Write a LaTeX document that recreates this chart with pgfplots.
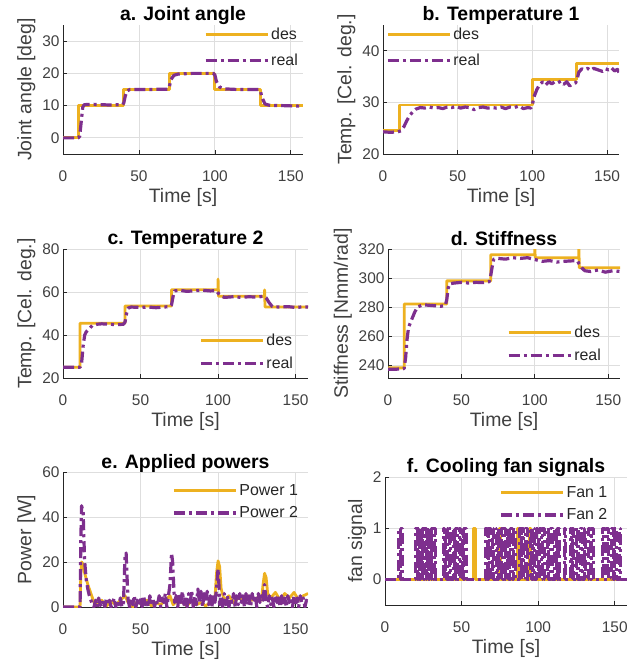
\documentclass[border=0pt]{standalone}
\usepackage{fontspec}
\setmainfont{Liberation Sans}
\usepackage{pgfplots}
\pgfplotsset{compat=1.18}

\definecolor{cdes}{HTML}{EDB120}
\definecolor{creal}{HTML}{7E2F8E}
\definecolor{axgray}{HTML}{262626}
\definecolor{txtgray}{HTML}{404040}
\definecolor{gridgray}{HTML}{DEDEDE}

\pgfplotsset{
  legend image code/.code={\draw[#1] (0bp,0bp) -- (62bp,0bp);},
  panel/.style={
    scale only axis,
    anchor=south west,
    axis x line=bottom, axis y line=left,
    axis line style={axgray, line width=0.8bp, -},
    tick align=inside,
    major tick length=4bp,
    tick style={axgray, line width=0.7bp},
    grid=major,
    major grid style={gridgray, line width=0.8bp},
    /pgf/number format/assume math mode=true,
    tick label style={font=\fontsize{15.5}{15.5}\selectfont, text=txtgray},
    xticklabel style={yshift=-13bp},
    label style={font=\fontsize{19.5}{19.5}\selectfont, text=txtgray},
    every axis title/.style={at={(0.5,1)}, anchor=base, yshift=4bp, font=\bfseries\fontsize{19.5}{19.5}\selectfont},
    xlabel={Time [s]},
    xmin=0, xmax=158,
    xtick={0,50,100,150},
    legend style={draw=none, fill=none, font=\fontsize{16}{16}\selectfont, text=axgray, row sep=6bp},
    legend cell align=left,
  },
  desline/.style={cdes, line width=2.8bp, line join=round},
  realline/.style={creal, line width=3.2bp, line join=round, dash pattern=on 11bp off 4bp on 3bp off 4bp},
}

\begin{document}
\begin{tikzpicture}
\path[use as bounding box] (0,0) rectangle (644bp,663bp);

% a. Joint angle
\begin{axis}[panel, at={(63bp,509bp)}, width=240bp, height=129bp,
  title={a. Joint angle}, ylabel={Joint angle [deg]},
  ymin=-5, ymax=35, ytick={0,10,20,30},
  legend style={at={(1.0,1.01)}, anchor=north east, row sep=9bp}]
\addplot[desline] coordinates {(0,0)(10,0)(10,10)(40,10)(40,15)(70,15)(70,20)(100,20)(100,15)(130,15)(130,10)(158,10)};
\addplot[realline] coordinates {(0,0)(10,0)(11,0.5)(12,5)(13,9.5)(14,10.3)(20,10.4)(30,10.2)(39,10.3)(40,10.8)(41,13)(42,14.5)(44,15)(55,15)(69,15.1)(70,15.8)(71,18)(73,19.4)(76,19.8)(85,20)(99,20)(100,19.5)(101,17.5)(103,15.8)(106,15.2)(115,15)(129,15)(130,14.5)(131,12.5)(133,10.5)(136,10.1)(145,10)(158,9.8)};
\legend{des, real}
\end{axis}

% b. Temperature 1
\begin{axis}[panel, at={(383bp,509bp)}, width=236bp, height=129bp,
  title={b. Temperature 1}, ylabel={Temp. [Cel. deg.]},
  ymin=20, ymax=45, ytick={20,30,40},
  legend style={at={(0.0,1.01)}, anchor=north west, row sep=9bp}]
\addplot[desline] coordinates {(0,24.5)(11,24.5)(11,29.5)(100,29.5)(100,34.5)(129.5,34.5)(129.5,37.5)(158,37.5)};
\addplot[realline] coordinates {(0,24.3)(5,24.2)(10,24.3)(12,24.5)(14,25.3)(16,26.5)(18,27.5)(20,28.2)(22,28.7)(25,29)(28,28.9)(31,29.1)(34,28.9)(37,29)(40,28.8)(43,29.1)(46,29)(49,29.2)(52,28.9)(55,29.1)(58,29)(61,28.6)(64,29)(67,29.1)(70,28.9)(73,29)(76,28.9)(79,29.1)(82,28.8)(85,29.1)(88,29)(91,29.3)(94,28.8)(97,29)(99,28.9)(100,29.5)(101,31)(103,32.5)(105,33.5)(107,34)(109,33.4)(111,34)(113,33.6)(115,34)(117,33.8)(119,34.1)(121,33.5)(123,34)(125,33.2)(127,33.6)(129,33.8)(130,34.5)(131,35.8)(133,36.5)(135,36.3)(137,36.6)(139,36.2)(141,36.6)(143,36.4)(145,36.2)(147,36.0)(149,36.5)(151,36.3)(153,36.7)(155,36.1)(157,36.4)(158,35.8)};
\legend{des, real}
\end{axis}

% c. Temperature 2
\begin{axis}[panel, at={(63bp,285bp)}, width=245bp, height=129bp,
  title={c. Temperature 2}, ylabel={Temp. [Cel. deg.]},
  ymin=20, ymax=80, ytick={20,40,60,80},
  legend style={at={(0.96,0.03)}, anchor=south east}]
\addplot[desline] coordinates {(0,25)(11,25)(11,45.5)(40,45.5)(40,53.5)(70,53.5)(70,61)(100,61)(100,66)(100.3,58)(130,58)(130,61)(130.3,53)(158,53)};
\addplot[realline] coordinates {(0,25)(11,25)(12,27)(13,35)(14,40)(15,41.5)(17,43)(19,44.5)(22,45)(25,45.2)(30,45)(35,44.8)(39,45)(40,46)(41,50)(42,52.5)(44,53)(50,52.8)(55,53)(60,52.7)(65,53)(69,53.2)(70,54)(71,58)(72,60.5)(75,60.8)(80,60.3)(85,60.6)(90,60.8)(95,60.5)(99,60.6)(100,59.5)(102,58.2)(104,57.5)(110,57.8)(115,57.5)(120,57.8)(125,57.6)(129,58)(131,57.3)(133,55)(135,53.2)(140,53)(145,53.2)(150,52.8)(155,53.1)(158,53)};
\legend{des, real}
\end{axis}

% d. Stiffness
\begin{axis}[panel, at={(388bp,285bp)}, width=232bp, height=129bp,
  title={d. Stiffness}, ylabel={Stiffness [Nmm/rad]},
  ymin=231, ymax=320, ytick={240,260,280,300,320},
  legend style={at={(0.94,0.09)}, anchor=south east}]
\addplot[desline] coordinates {(0,238)(11,238)(11,282)(40,282)(40,298)(70,298)(70,316)(100,316)(100,320)(100.3,314)(130,314)(130,320)(130.3,307)(158,307)};
\addplot[realline] coordinates {(0,237)(5,237)(11,237.5)(12,245)(13,258)(14,266)(16,271)(18,276)(20,280)(24,281.5)(30,281)(36,280.5)(39,281)(40,285)(41,293)(42,296)(45,296.5)(50,297)(55,296.5)(60,297)(65,296.8)(69,297.5)(70,302)(71,308)(72,313)(75,313.5)(80,313)(85,314)(90,313.5)(95,314)(99,313)(101,312.5)(105,311.5)(110,312)(115,311)(120,311.5)(125,311.8)(129,312)(130,310)(132,307)(134,305)(138,304.5)(143,305.5)(148,304)(153,305)(158,304.5)};
\legend{des, real}
\end{axis}

% e. Applied powers
\begin{axis}[panel, at={(63bp,56bp)}, width=245bp, height=135bp,
  title={e. Applied powers}, ylabel={Power [W]},
  ymin=0, ymax=60, ytick={0,20,40,60},
  legend style={at={(0.98,0.94)}, anchor=north east}]
\addplot[desline] coordinates {(0,0)(11,0)(11.5,15)(12,20)(13,19)(14,15)(16,10)(18,6)(20,2)(22,1)(25,3)(28,0.5)(31,2.5)(34,1)(37,3)(40,5)(42,2)(45,0)(48,2.5)(51,1)(54,3)(57,0.5)(60,2)(63,1)(66,3)(69,5)(71,1)(74,3)(77,2)(80,0.5)(83,3)(86,1)(89,2)(92,0.5)(95,2)(98,4)(99,15)(100,20.5)(101,18)(102,8)(104,3)(107,5)(110,2)(113,4)(116,3)(119,5)(122,3)(125,4)(128,3)(129,10)(130,15)(131,13)(132,6)(134,4)(137,6.5)(140,3)(143,6)(146,4)(149,6.5)(152,3)(155,5)(158,6)};
\addplot[realline] coordinates {(0,0)(11,0)(11.5,30)(12,45)(13,42)(13.5,30)(14,20)(15,12)(16,8)(17,5)(18,3)(19,1)(20,0)(21,3)(22,0)(23,4)(24,1)(25,0)(26,3)(27,0)(28,4)(29,1)(30,3)(31,0)(32,2)(33,4)(34,0)(35,3)(36,1)(37,4)(38,0)(39,2)(40,23)(40.7,24)(41.5,10)(42,3)(43,0)(44,4)(45,1)(46,5)(47,0)(48,3)(49,1)(50,4)(51,0)(52,5)(53,1)(54,3)(55,0)(56,5)(57,2)(58,4)(59,0)(60,3)(61,1)(62,5)(63,0)(64,4)(65,2)(66,6)(67,0)(68,5)(69,10)(70,24)(70.7,20)(71.5,8)(72,2)(73,5)(74,0)(75,6)(76,2)(77,7)(78,1)(79,5)(80,0)(81,6)(82,2)(83,7)(84,0)(85,5)(86,1)(87,8)(88,2)(89,7)(90,0)(91,6)(92,2)(93,7)(94,1)(95,5)(96,0)(97,6)(98,2)(99,8)(100,17)(100.7,8)(101,1)(102,5)(103,0)(104,6)(105,1)(106,5)(107,0)(108,4)(109,2)(110,6)(111,0)(112,5)(113,1)(114,6)(115,2)(116,5)(117,0)(118,6)(119,1)(120,5)(121,0)(122,6)(123,2)(124,5)(125,0)(126,6)(127,2)(128,5)(129,3)(130,10)(131,2)(132,0)(133,5)(134,1)(135,4)(136,0)(137,5)(138,2)(139,4)(140,0)(141,5)(142,1)(143,4)(144,0)(145,5)(146,2)(147,4)(148,0)(149,5)(150,1)(151,4)(152,0)(153,5)(154,2)(155,4)(156,0)(157,3)(158,2)};
\legend{Power 1, Power 2}
\end{axis}

% f. Cooling fan signals
\begin{axis}[panel, at={(385bp,58bp)}, width=242bp, height=128bp,
  title={f. Cooling fan signals}, ylabel={fan signal},
  ymin=-0.5, ymax=2, ytick={0,1,2},
  legend style={at={(0.94,0.96)}, anchor=north east}]
\addplot[desline, const plot] coordinates {(0,0)(58,1)(59,0)(74.5,1)(75.5,0)(86.5,1)(87.3,0)(94.5,1)(95.3,0)(158,0)};
\addplot[realline, const plot] coordinates {(0,0)(9,1)(10,0)(10.7,1)(11.5,0)(20,1)(21,0)(21.6,1)(22.5,0)(23,1)(24,0)(24.5,1)(25.5,0)(26,1)(27,0)(27.6,1)(28.3,0)(29,1)(30,0)(30.5,1)(31.5,0)(32,1)(33,0)(38,1)(39,0)(39.6,1)(40.5,0)(42,1)(43,0)(44.5,1)(45.5,0)(46,1)(47,0)(48.5,1)(49.5,0)(50.7,1)(51.5,0)(52,1)(53,0)(66,1)(67,0)(67.6,1)(68.5,0)(70,1)(71,0)(72.6,1)(73.5,0)(74,1)(74.7,0)(76,1)(77,0)(77.7,1)(78.5,0)(80,1)(81,0)(82,1)(83,0)(84,1)(85,0)(88,1)(89,0)(89.5,1)(90.5,0)(92,1)(93,0)(95,1)(96,0)(96.6,1)(97.5,0)(99,1)(100,0)(101,1)(102,0)(103,1)(104,0)(106,1)(107,0)(108,1)(109,0)(111,1)(112,0)(113,1)(114,0)(117,1)(118,0)(121,1)(122,0)(122.6,1)(123.3,0)(125,1)(126,0)(128,1)(129,0)(130,1)(131,0)(133,1)(134,0)(135,1)(136,0)(142,1)(143,0)(145,1)(146,0)(148,1)(149,0)(150,1)(151,0)(153,1)(154,0)(158,0)};
\legend{Fan 1, Fan 2}
\end{axis}
\end{tikzpicture}
\end{document}
